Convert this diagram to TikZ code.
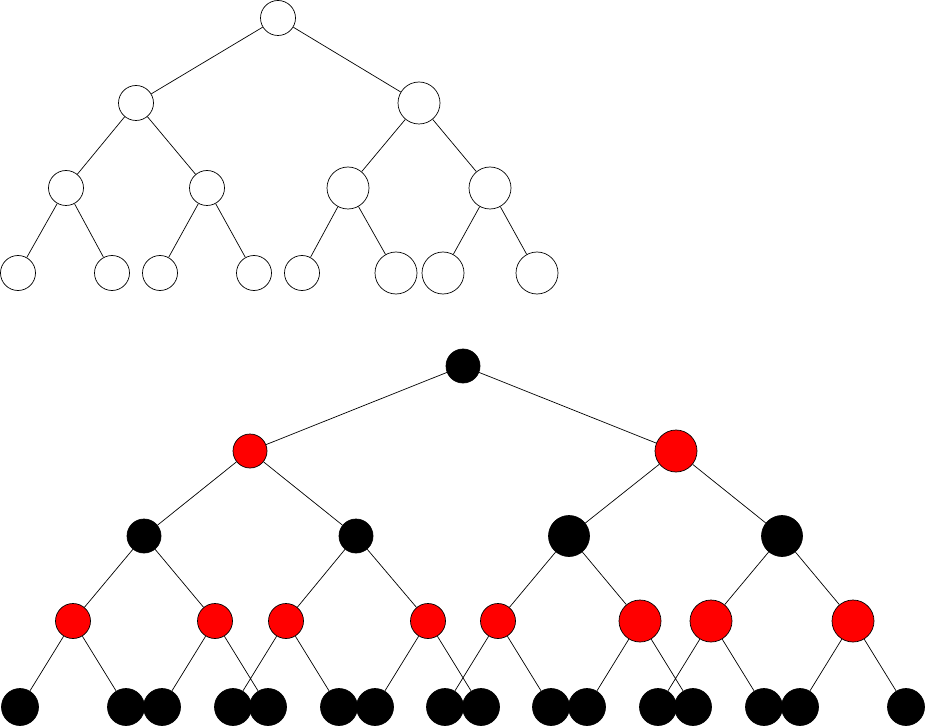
\documentclass[tikz,border=0pt]{standalone}
\begin{document}
\begin{tikzpicture}[x=1pt,y=-1pt,
  nd/.style={circle,draw=black,line width=0.7pt,inner sep=0pt,minimum size=#1},
  wn/.style={nd=#1,fill=white},
  bn/.style={nd=#1,fill=black},
  rn/.style={nd=#1,fill=red},
  ed/.style={draw=black,line width=0.7pt}]
\useasboundingbox (0,0) rectangle (926,727);
% top tree
\node[wn=35pt] (t0) at (278,18) {};
\node[wn=35pt] (t1) at (136,103) {};
\node[wn=42pt] (t2) at (419,103) {};
\node[wn=35pt] (t3) at (66,188) {};
\node[wn=35pt] (t4) at (207,188) {};
\node[wn=42pt] (t5) at (348,188) {};
\node[wn=42pt] (t6) at (490,188) {};
\node[wn=35pt] (t7) at (18,273) {};
\node[wn=35pt] (t8) at (112,273) {};
\node[wn=35pt] (t9) at (160,273) {};
\node[wn=35pt] (t10) at (254,273) {};
\node[wn=35pt] (t11) at (302,273) {};
\node[wn=42pt] (t12) at (396,273) {};
\node[wn=42pt] (t13) at (443,273) {};
\node[wn=42pt] (t14) at (537,273) {};
\path[ed] (t0) -- (t1) (t0) -- (t2)
  (t1) -- (t3) (t1) -- (t4) (t2) -- (t5) (t2) -- (t6)
  (t3) -- (t7) (t3) -- (t8) (t4) -- (t9) (t4) -- (t10)
  (t5) -- (t11) (t5) -- (t12) (t6) -- (t13) (t6) -- (t14);
% bottom tree
\node[bn=34pt] (b0) at (463,366) {};
\node[rn=34pt] (b1) at (250,451) {};
\node[rn=42pt] (b2) at (676,451) {};
\node[bn=34pt] (b3) at (144,536) {};
\node[bn=34pt] (b4) at (356,536) {};
\node[bn=41pt] (b5) at (569,536) {};
\node[bn=41pt] (b6) at (782,536) {};
\node[rn=35pt] (b7) at (73,621) {};
\node[rn=35pt] (b8) at (215,621) {};
\node[rn=35pt] (b9) at (286,621) {};
\node[rn=35pt] (b10) at (428,621) {};
\node[rn=35pt] (b11) at (498,621) {};
\node[rn=42pt] (b12) at (640,621) {};
\node[rn=42pt] (b13) at (711,621) {};
\node[rn=42pt] (b14) at (853,621) {};
\node[bn=37pt] (l1) at (20,707) {};
\node[bn=37pt] (l2) at (126,707) {};
\node[bn=37pt] (l3) at (162,707) {};
\node[bn=37pt] (l5) at (233,707) {};
\node[bn=37pt] (l4) at (268,707) {};
\node[bn=37pt] (l6) at (339,707) {};
\node[bn=37pt] (l7) at (375,707) {};
\node[bn=37pt] (l9) at (445,707) {};
\node[bn=37pt] (l8) at (481,707) {};
\node[bn=37pt] (l10) at (551,707) {};
\node[bn=37pt] (l11) at (587,707) {};
\node[bn=37pt] (l13) at (658,707) {};
\node[bn=37pt] (l12) at (693,707) {};
\node[bn=37pt] (l14) at (764,707) {};
\node[bn=37pt] (l15) at (800,707) {};
\node[bn=37pt] (l16) at (906,707) {};
\path[ed] (b0) -- (b1) (b0) -- (b2)
  (b1) -- (b3) (b1) -- (b4) (b2) -- (b5) (b2) -- (b6)
  (b3) -- (b7) (b3) -- (b8) (b4) -- (b9) (b4) -- (b10)
  (b5) -- (b11) (b5) -- (b12) (b6) -- (b13) (b6) -- (b14)
  (b7) -- (l1) (b7) -- (l2) (b8) -- (l3) (b8) -- (l4)
  (b9) -- (l5) (b9) -- (l6) (b10) -- (l7) (b10) -- (l8)
  (b11) -- (l9) (b11) -- (l10) (b12) -- (l11) (b12) -- (l12)
  (b13) -- (l13) (b13) -- (l14) (b14) -- (l15) (b14) -- (l16);
\end{tikzpicture}
\end{document}
